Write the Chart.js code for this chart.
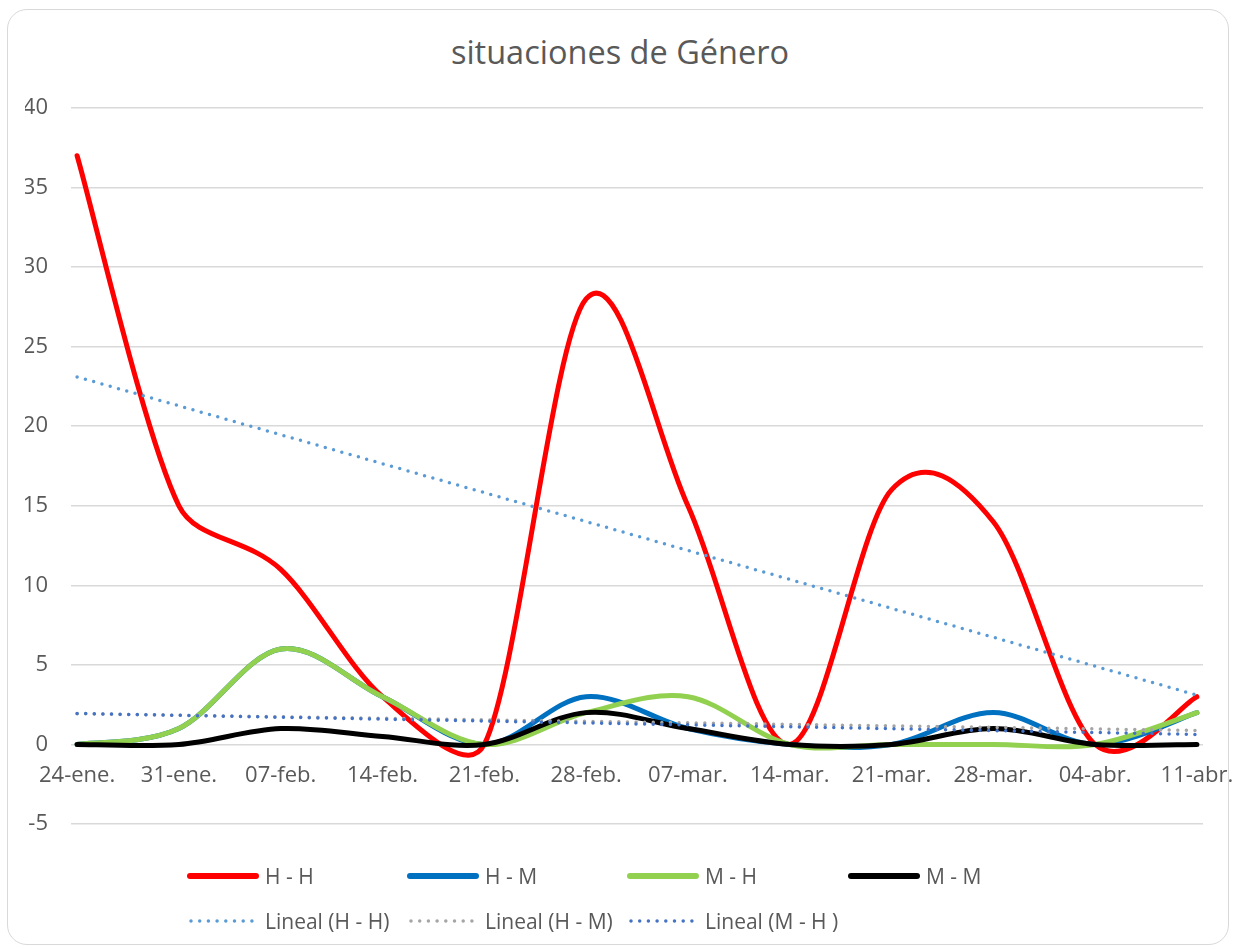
<!DOCTYPE html>
<html>
<head>
<meta charset="utf-8">
<script src="https://cdn.jsdelivr.net/npm/chart.js@4.4.1/dist/chart.umd.min.js"></script>
<style>
  html, body { margin: 0; padding: 0; background: #fff; }
  body { width: 1233px; height: 949px; position: relative; overflow: hidden; font-family: 'Open Sans', sans-serif; }
  #frame { position: absolute; left: 7px; top: 9px; width: 1222px; height: 936px; border: 1.5px solid #d9d9d9; border-radius: 20px; box-sizing: border-box; }
  #title { position: absolute; left: 0; top: 36px; width: 1240px; text-align: center; font-size: 32.5px; line-height: 32px; color: #595959; white-space: nowrap; }
  #c { position: absolute; left: 0; top: 0; }
  .lg { position: absolute; height: 20px; display: flex; align-items: center; white-space: nowrap; }
  .lg svg { display: block; flex: none; }
  .lg span { margin-left: 6px; font-size: 21px; line-height: 20px; color: #595959; }
</style>
</head>
<body>
<div id="frame"></div>
<div id="title">situaciones de Género</div>
<canvas id="c" width="1233" height="949"></canvas>
<div id="legend"></div>
<script>
// ---- data ----
const categories = ['24-ene.', '31-ene.', '07-feb.', '14-feb.', '21-feb.', '28-feb.', '07-mar.', '14-mar.', '21-mar.', '28-mar.', '04-abr.', '11-abr.'];
const seriesHH = [37, 15, 11, 3, 0, 28, 15, 0, 16, 14, 0, 3];
const seriesHM = [0, 1, 6, 3, 0, 3, 1, 0, 0, 2, 0, 2];
const seriesMH = [0, 1, 6, 3, 0, 2, 3, 0, 0, 0, 0, 2];
const seriesMM = [0, 0, 1, 0.5, 0, 2, 1, 0, 0, 1, 0, 0];
// trend lines (Excel "Lineal"), values read at first and last category
const trendHH = [23.1, null, null, null, null, null, null, null, null, null, null, 3.1];
const trendHM = [1.93, null, null, null, null, null, null, null, null, null, null, 0.88];
const trendMH = [1.95, null, null, null, null, null, null, null, null, null, null, 0.63];
const yTicks = [-5, 0, 5, 10, 15, 20, 25, 30, 35, 40];

const toPts = arr => arr.map((v, i) => ({ x: i, y: v }));
const FONT = "'Open Sans', sans-serif";
const TXT = '#595959';

function solid(label, data, color, order) {
  return { label, data: toPts(data), borderColor: color, backgroundColor: color, borderWidth: 5,
    tension: 0.4, pointRadius: 0, fill: false, borderCapStyle: 'round', borderJoinStyle: 'round', order, smooth: true };
}
function dotted(label, data, color, order) {
  return { label, data: toPts(data), borderColor: color, backgroundColor: color, borderWidth: 3.5,
    borderDash: [0, 8.6], borderCapStyle: 'round', tension: 0, pointRadius: 0, fill: false, spanGaps: true, order, dotted: true };
}

const datasets = [
  solid('H - H', seriesHH, '#FF0000', 7),
  solid('H - M', seriesHM, '#0070C0', 6),
  solid('M - H', seriesMH, '#92D050', 5),
  solid('M - M', seriesMM, '#000000', 4),
  dotted('Lineal (H - H)', trendHH, '#5B9BD5', 3),
  dotted('Lineal (H - M)', trendHM, '#A5A5A5', 2),
  dotted('Lineal (M - H )', trendMH, '#4472C4', 1)
];

// Excel-like smoothing: Catmull-Rom arms (P[i+1]-P[i-1])/6, shortened when an arm
// is long compared with the segment it belongs to
const excelSmooth = {
  id: 'excelSmooth',
  beforeDatasetDraw(chart, args) {
    const ds = chart.data.datasets[args.index];
    if (!ds.smooth) return;
    const line = args.meta.dataset;
    line.updateControlPoints(chart.chartArea, args.meta.indexAxis);
    const pts = line.points;
    const n = pts.length;
    for (let i = 0; i < n; i++) {
      const p = pts[i];
      const prev = pts[Math.max(i - 1, 0)];
      const next = pts[Math.min(i + 1, n - 1)];
      const vx = (next.x - prev.x) / 6, vy = (next.y - prev.y) / 6;
      const L = Math.hypot(vx, vy);
      const segPrev = i > 0 ? Math.hypot(p.x - prev.x, p.y - prev.y) : Infinity;
      const segNext = i < n - 1 ? Math.hypot(next.x - p.x, next.y - p.y) : Infinity;
      const kb = L > 0.55 * segPrev ? 0.5 : 1;
      const kf = L > 0.55 * segNext ? 0.5 : 1;
      p.cp1x = p.x - vx * kb; p.cp1y = p.y - vy * kb;
      p.cp2x = p.x + vx * kf; p.cp2y = p.y + vy * kf;
    }
  }
};

const chart = new Chart(document.getElementById('c'), {
  type: 'line',
  data: { datasets },
  plugins: [excelSmooth],
  options: {
    responsive: false,
    animation: false,
    events: [],
    layout: { padding: { left: 25, right: 30, top: 108, bottom: 125 } },
    plugins: { legend: { display: false }, title: { display: false }, tooltip: { enabled: false } },
    scales: {
      x: {
        type: 'linear',
        position: { y: 0 },
        min: -0.06,
        max: categories.length - 1 + 0.06,
        grid: { display: false, drawTicks: false },
        border: { display: false },
        afterBuildTicks: s => { s.ticks = categories.map((_, i) => ({ value: i })); },
        afterFit: s => { s.paddingLeft = 0; s.paddingRight = 0; },
        ticks: {
          autoSkip: false, maxRotation: 0, padding: 18,
          color: TXT, font: { family: FONT, size: 22 },
          callback: v => categories[v]
        }
      },
      y: {
        min: yTicks[0],
        max: yTicks[yTicks.length - 1],
        afterBuildTicks: s => { s.ticks = yTicks.map(v => ({ value: v })); },
        afterFit: s => { s.width = 46; },
        grid: { color: '#d9d9d9', lineWidth: 1.5, drawTicks: false },
        border: { display: false },
        ticks: { padding: 23, color: TXT, font: { family: FONT, size: 22 } }
      }
    }
  }
});

// HTML legend built from the chart's datasets (Excel-style grid)
const colsX = [187, 407, 627, 848];
const rowsY = [876, 921];
const legend = document.getElementById('legend');
chart.data.datasets.forEach((ds, i) => {
  const row = i < 4 ? 0 : 1;
  const col = i < 4 ? i : i - 4;
  const item = document.createElement('div');
  item.className = 'lg';
  item.style.left = colsX[col] + 'px';
  item.style.top = (rowsY[row] - 10) + 'px';
  const ns = 'http://www.w3.org/2000/svg';
  const svg = document.createElementNS(ns, 'svg');
  svg.setAttribute('width', '72'); svg.setAttribute('height', '20');
  const ln = document.createElementNS(ns, 'line');
  ln.setAttribute('y1', '10'); ln.setAttribute('y2', '10');
  ln.setAttribute('stroke', ds.borderColor);
  ln.setAttribute('stroke-linecap', 'round');
  if (ds.dotted) {
    ln.setAttribute('x1', '4'); ln.setAttribute('x2', '66');
    ln.setAttribute('stroke-width', '3.5');
    ln.setAttribute('stroke-dasharray', '0 8.7');
  } else {
    ln.setAttribute('x1', '3'); ln.setAttribute('x2', '69');
    ln.setAttribute('stroke-width', '6');
  }
  svg.appendChild(ln);
  const sp = document.createElement('span');
  sp.textContent = ds.label;
  item.appendChild(svg); item.appendChild(sp);
  legend.appendChild(item);
});
</script>
</body>
</html>
